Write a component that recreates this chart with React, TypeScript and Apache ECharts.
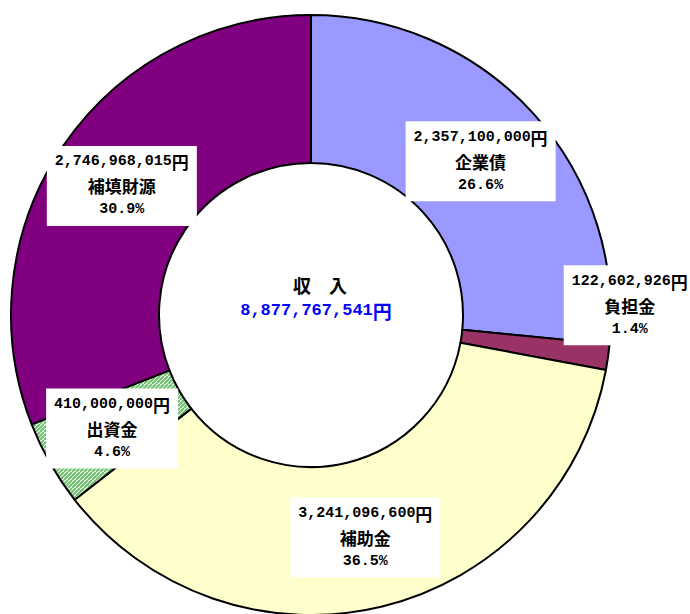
import React, { useEffect, useRef } from "react";
import * as echarts from "echarts";

const categories = ["企業債", "負担金", "補助金", "出資金", "補填財源"];
const values = [2357100000, 122602926, 3241096600, 410000000, 2746968015];
const colors = ["#9999FF", "#993366", "#FFFFCC", "hatch", "#800080"];
const centerTitle = "収　入";

function fmt(n: number): string {
  return n.toLocaleString("en-US");
}

function hatchUrl(): string {
  const c = document.createElement("canvas");
  c.width = 8;
  c.height = 8;
  const ctx = c.getContext("2d")!;
  ctx.fillStyle = "#ffffff";
  ctx.fillRect(0, 0, 8, 8);
  ctx.strokeStyle = "#6fbf6f";
  ctx.lineWidth = 2;
  for (let k = -8; k <= 16; k += 4) {
    ctx.beginPath();
    ctx.moveTo(k, 8);
    ctx.lineTo(k + 8, 0);
    ctx.stroke();
  }
  return c.toDataURL();
}

export default function App() {
  const ref = useRef<HTMLDivElement>(null);
  useEffect(() => {
    document.body.style.margin = "0";
    const chart = echarts.init(ref.current!, null, { renderer: "svg" });
    const hatch = hatchUrl();
    const total = values.reduce((a, b) => a + b, 0);
    const data = categories.map((name, i) => {
      const item: any = {
        name,
        value: values[i],
        itemStyle: {
          color:
            colors[i] === "hatch"
              ? { image: hatch, repeat: "repeat" }
              : colors[i],
        },
      };
      if (i === 1) {
        item.label = { offset: [92, -42] };
      }
      return item;
    });
    chart.setOption({
      animation: false,
      backgroundColor: "#ffffff",
      series: [
        {
          type: "pie",
          center: [311, 315],
          radius: [152, 300],
          startAngle: 90,
          clockwise: true,
          percentPrecision: 1,
          avoidLabelOverlap: false,
          itemStyle: { borderColor: "#000000", borderWidth: 2 },
          emphasis: { disabled: true },
          labelLine: { show: false },
          label: {
            show: true,
            position: "inside",
            backgroundColor: "#ffffff",
            padding: [4, 8, 4, 8],
            align: "center",
            formatter: (p: any) =>
              `{num|${fmt(p.value)}}{jp|円}\n{jp|${p.name}}\n{num|${p.percent.toFixed(1)}%}`,
            rich: {
              num: {
                fontFamily: "Liberation Mono",
                fontSize: 15,
                fontWeight: "bold",
                color: "#000",
                lineHeight: 24,
                align: "center",
              },
              jp: {
                fontFamily: "Noto Sans CJK JP",
                fontSize: 17,
                fontWeight: "bold",
                color: "#000",
                lineHeight: 24,
                align: "center",
              },
            },
          },
          data,
        },
      ],
      graphic: [
        {
          type: "text",
          x: 320,
          y: 285,
          style: {
            text: centerTitle,
            fontFamily: "Noto Sans CJK JP",
            fontSize: 18,
            fontWeight: "bold",
            fill: "#000",
            align: "center",
            verticalAlign: "middle",
          },
        },
        {
          type: "text",
          x: 316,
          y: 310,
          style: {
            rich: {
              n: { fontFamily: "Liberation Mono", fontSize: 17, fill: "#0000FF", fontWeight: "bold" },
              y: { fontFamily: "Noto Sans CJK JP", fontSize: 19, fill: "#0000FF", fontWeight: "bold" },
            },
            text: `{n|${fmt(total)}}{y|円}`,
            align: "center",
            verticalAlign: "middle",
          },
        },
      ],
    });
    return () => chart.dispose();
  }, []);
  return (
    <div
      ref={ref}
      style={{ position: "fixed", left: 0, top: 0, width: 690, height: 614 }}
    />
  );
}
